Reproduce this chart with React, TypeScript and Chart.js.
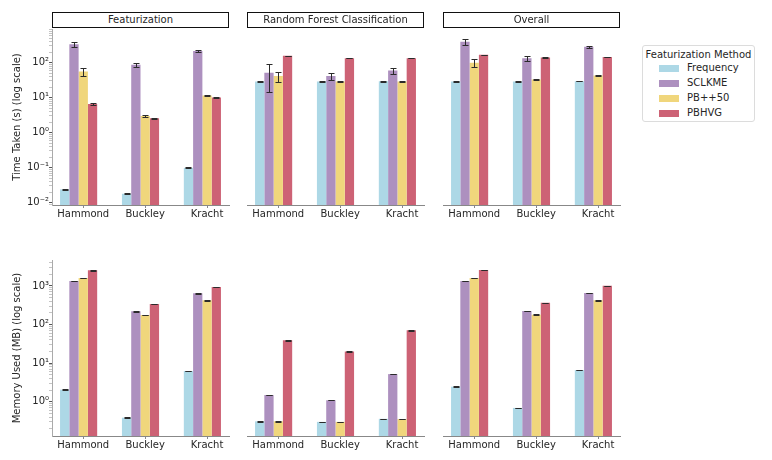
import React, { useEffect, useRef } from 'react';
import { Chart, registerables } from 'chart.js';

Chart.register(...registerables);

// ---------- data ----------
const groups = ['Hammond', 'Buckley', 'Kracht'];
const methods = ['Frequency', 'SCLKME', 'PB++50', 'PBHVG'];
const methodColors = ['#add8e6', '#ad90bf', '#f0d67c', '#cd6275'];

// Time taken (s): rows = methods, columns = groups
const featTime = [
  [0.024, 0.018, 0.099],
  [335, 88, 215],
  [56, 3.0, 11.5],
  [6.6, 2.6, 10.2],
];
const featTimeErr = [
  [0.001, 0.0008, 0.003],
  [45, 12, 12],
  [15, 0.25, 0.6],
  [0.5, 0.08, 0.2],
];
const rfTime = [
  [29, 29, 29.5],
  [52, 42, 60],
  [42, 29, 29],
  [158, 135, 135],
];
const rfTimeErr = [
  [0.5, 0.5, 0.5],
  [37, 10, 11],
  [13, 0.5, 0.5],
  [2, 1.5, 1.5],
];
const overallTime = [
  [29, 29, 29.6],
  [395, 135, 285],
  [100, 33, 43],
  [168, 141, 145],
];
const overallTimeErr = [
  [0.5, 0.5, 0.5],
  [80, 20, 15],
  [24, 0.6, 1],
  [2, 1.5, 1.5],
];

// Memory used (MB)
const featMem = [
  [2.05, 0.385, 6.25],
  [1350, 221, 646],
  [1610, 177, 426],
  [2550, 341, 942],
];
const featMemErr = [
  [0.03, 0.006, 0.09],
  [20, 3, 9],
  [24, 2.5, 6],
  [38, 5, 14],
];
const rfMem = [
  [0.31, 0.30, 0.36],
  [1.49, 1.09, 5.2],
  [0.31, 0.30, 0.355],
  [39, 20, 71],
];
const rfMemErr = [
  [0.005, 0.005, 0.005],
  [0.02, 0.015, 0.07],
  [0.005, 0.005, 0.005],
  [0.5, 0.3, 1],
];
const overallMem = [
  [2.45, 0.69, 6.6],
  [1350, 225, 658],
  [1610, 180, 426],
  [2600, 365, 1010],
];
const overallMemErr = [
  [0.035, 0.01, 0.1],
  [20, 3, 9],
  [24, 2.5, 6],
  [38, 5, 15],
];

// axis ticks
const timeMajor = [0.01, 0.1, 1, 10, 100];
const timeMajorLabels = ['10⁻²', '10⁻¹', '10⁰', '10¹', '10²'];
const memMajor = [1, 10, 100, 1000];
const memMajorLabels = ['10⁰', '10¹', '10²', '10³'];
const timeRange = [0.00859, 918];
const memRange = [0.129, 4720];

const panelTitles = ['Featurization', 'Random Forest Classification', 'Overall'];

// ---------- styling / layout ----------
const FONT = 'DejaVu Sans';
const TEXT = '#262626';
const X_MIN = -0.505;
const X_MAX = 2.355;
const GROUP_SHIFT = 0.075; // bar groups sit slightly left of their tick

function buildLogTicks(min: number, max: number) {
  const out: number[] = [];
  const lo = Math.floor(Math.log10(min));
  const hi = Math.ceil(Math.log10(max));
  for (let d = lo; d <= hi; d++) {
    for (let k = 1; k <= 9; k++) {
      const v = parseFloat((k * Math.pow(10, d)).toPrecision(6));
      if (v >= min && v <= max) out.push(v);
    }
  }
  return out;
}

function isDecade(v: number) {
  const l = Math.log10(v);
  return Math.abs(l - Math.round(l)) < 1e-9;
}

function makeErrorBars(errs: number[][]) {
  return {
    id: 'errbars',
    afterDatasetsDraw(chart: any) {
      const ctx = chart.ctx;
      const ys = chart.scales.y;
      ctx.save();
      ctx.strokeStyle = '#2b2b2b';
      ctx.lineWidth = 1;
      chart.data.datasets.forEach((ds: any, i: number) => {
        const meta = chart.getDatasetMeta(i);
        meta.data.forEach((bar: any, j: number) => {
          const v = ds.data[j].y;
          const e = errs[i][j];
          const top = Math.round(ys.getPixelForValue(v + e)) + 0.5;
          const bot = Math.round(ys.getPixelForValue(Math.max(v - e, ys.min))) + 0.5;
          const x = Math.round(bar.x) + 0.5;
          ctx.beginPath();
          ctx.moveTo(x, top);
          ctx.lineTo(x, bot);
          ctx.moveTo(x - 3, top);
          ctx.lineTo(x + 3, top);
          ctx.moveTo(x - 3, bot);
          ctx.lineTo(x + 3, bot);
          ctx.stroke();
        });
      });
      ctx.restore();
    },
  };
}

type PanelProps = {
  means: number[][];
  errs: number[][];
  range: number[];
  majors: number[];
  majorLabels: string[];
  yTitle: string;
  showY: boolean;
  left: number;
  top: number;
  width: number;
  height: number;
  padLeft: number;
};

function Panel(p: PanelProps) {
  const ref = useRef<HTMLCanvasElement>(null);
  useEffect(() => {
    const minorTicks = buildLogTicks(p.range[0], p.range[1]);
    const labelFor = (v: number) => {
      const idx = p.majors.findIndex((m) => Math.abs(m - v) / m < 1e-6);
      return idx >= 0 ? p.majorLabels[idx] : '';
    };
    const chart = new Chart(ref.current as HTMLCanvasElement, {
      type: 'bar',
      data: {
        datasets: methods.map((m, i) => ({
          label: m,
          data: p.means[i].map((v, j) => ({ x: j - GROUP_SHIFT, y: v })),
          backgroundColor: methodColors[i],
          borderWidth: 0,
          categoryPercentage: 0.6,
          barPercentage: 1,
        })),
      },
      options: {
        animation: false,
        responsive: false,
        devicePixelRatio: 1,
        layout: { padding: { left: p.padLeft, right: 8, top: 10, bottom: 0 } },
        plugins: { legend: { display: false }, tooltip: { enabled: false }, title: { display: false } },
        scales: {
          x: {
            type: 'linear',
            min: X_MIN,
            max: X_MAX,
            offset: false,
            afterBuildTicks: (s: any) => {
              s.ticks = groups.map((_, i) => ({ value: i }));
            },
            afterFit: (s: any) => {
              s.height = 24;
            },
            ticks: {
              autoSkip: false,
              maxRotation: 0,
              padding: 0,
              color: TEXT,
              font: { family: FONT, size: 10 },
              callback: (v: any) => groups[Math.round(v)] ?? '',
            },
            grid: { display: true, drawOnChartArea: false, drawTicks: true, tickLength: 3, tickColor: '#888', offset: false },
            border: { display: true, color: '#888', width: 1 },
          },
          y: {
            type: 'logarithmic',
            display: p.showY,
            min: p.range[0],
            max: p.range[1],
            afterBuildTicks: (s: any) => {
              s.ticks = minorTicks.map((v) => ({ value: v, major: isDecade(v) }));
            },
            afterFit: (s: any) => {
              s.width = p.showY ? 52 : 0;
            },
            ticks: {
              autoSkip: false,
              padding: 0,
              color: TEXT,
              font: { family: FONT, size: 10 },
              callback: (v: any) => labelFor(Number(v)),
            },
            grid: {
              display: true,
              drawOnChartArea: false,
              drawTicks: true,
              tickLength: 3,
              tickColor: (c: any) => (c.tick && isDecade(c.tick.value) ? '#555' : '#aaa'),
              tickWidth: (c: any) => (c.tick && isDecade(c.tick.value) ? 1 : 0.7),
            },
            border: { display: true, color: '#aaa', width: 1 },
            title: {
              display: true,
              text: p.yTitle,
              color: TEXT,
              font: { family: FONT, size: 10 },
              padding: { top: 11, bottom: 0 },
            },
          },
        },
      } as any,
      plugins: [makeErrorBars(p.errs)],
    });
    return () => chart.destroy();
  }, []);
  return (
    <canvas
      ref={ref}
      width={p.width}
      height={p.height}
      style={{ position: 'absolute', left: p.left, top: p.top, width: p.width, height: p.height }}
    />
  );
}

const colLefts = [52, 247, 443];
const plotW = 177;
const rowTops = [29, 260];
const plotH = 176;

export default function App() {
  const rows = [
    { data: [featTime, rfTime, overallTime], errs: [featTimeErr, rfTimeErr, overallTimeErr], range: timeRange, majors: timeMajor, labels: timeMajorLabels, title: 'Time Taken (s) (log scale)' },
    { data: [featMem, rfMem, overallMem], errs: [featMemErr, rfMemErr, overallMemErr], range: memRange, majors: memMajor, labels: memMajorLabels, title: 'Memory Used (MB) (log scale)' },
  ];
  return (
    <div style={{ position: 'absolute', left: 0, top: 0, width: 772, height: 460, background: '#fff', overflow: 'hidden', fontFamily: FONT }}>
      {rows.map((r, ri) =>
        colLefts.map((cl, ci) => {
          const showY = ci === 0;
          const padLeft = showY ? 0 : 10;
          const left = showY ? 0 : cl - 10;
          const width = (showY ? 52 : 10) + plotW + 8;
          return (
            <Panel
              key={`${ri}-${ci}`}
              means={r.data[ci]}
              errs={r.errs[ci]}
              range={r.range}
              majors={r.majors}
              majorLabels={r.labels}
              yTitle={r.title}
              showY={showY}
              left={left}
              top={rowTops[ri] - 10}
              width={width}
              height={10 + plotH + 24}
              padLeft={padLeft}
            />
          );
        })
      )}
      {panelTitles.map((t, i) => (
        <div
          key={t}
          style={{
            position: 'absolute',
            left: colLefts[i],
            top: 12,
            width: plotW,
            height: 16,
            boxSizing: 'border-box',
            border: '1px solid #111',
            background: '#fff',
            fontSize: 10,
            lineHeight: '14px',
            textAlign: 'center',
            color: TEXT,
          }}
        >
          {t}
        </div>
      ))}
      <div
        style={{
          position: 'absolute',
          left: 642,
          top: 45,
          width: 113,
          height: 77,
          boxSizing: 'border-box',
          border: '1px solid #dcdcdc',
          borderRadius: 3,
          background: '#fff',
          fontSize: 10,
          color: TEXT,
        }}
      >
        <div style={{ position: 'absolute', left: 0, top: 3, width: 111, textAlign: 'center', lineHeight: '12px' }}>
          Featurization Method
        </div>
        {methods.map((m, i) => (
          <React.Fragment key={m}>
            <div
              style={{
                position: 'absolute',
                left: 16,
                top: 19 + i * 15,
                width: 20,
                height: 7,
                background: methodColors[i],
              }}
            />
            <div style={{ position: 'absolute', left: 44, top: 16 + i * 15, lineHeight: '12px' }}>{m}</div>
          </React.Fragment>
        ))}
      </div>
    </div>
  );
}
